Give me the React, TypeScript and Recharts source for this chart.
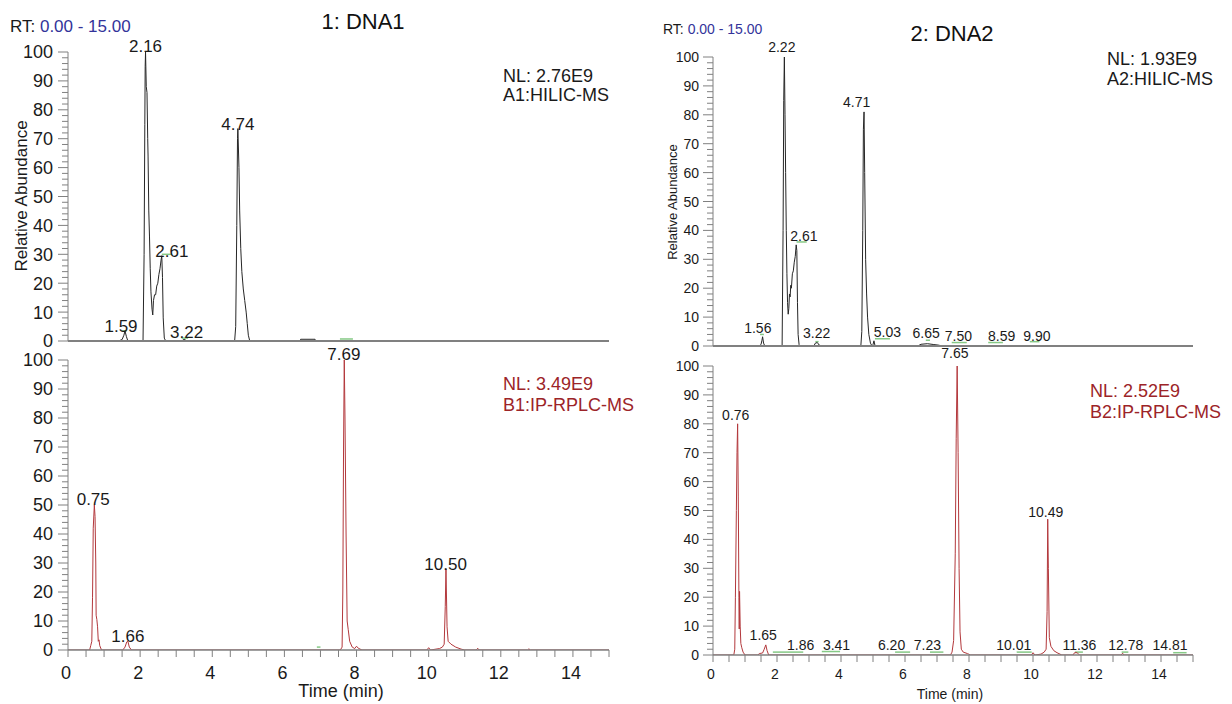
import React from "react";
import { LineChart, Line, XAxis, YAxis, ReferenceDot, ReferenceLine } from "recharts";

type Pt = { t: number; v: number };
type PeakLabel = { text: string; t: number; v: number };
type Seg = { t1: number; t2: number; v: number };

// A1: HILIC-MS, sample DNA1
const hilic1: Pt[] = [
  { t: 0, v: 0 }, { t: 1.4, v: 0 }, { t: 1.5, v: 0.5 }, { t: 1.55, v: 2 }, { t: 1.58, v: 3.5 },
  { t: 1.62, v: 1.5 }, { t: 1.66, v: 0 }, { t: 2.08, v: 0 }, { t: 2.11, v: 30 }, { t: 2.13, v: 75 },
  { t: 2.14, v: 95 }, { t: 2.15, v: 100 }, { t: 2.17, v: 88 }, { t: 2.19, v: 86 }, { t: 2.21, v: 70 },
  { t: 2.22, v: 64 }, { t: 2.24, v: 45 }, { t: 2.26, v: 36 }, { t: 2.28, v: 25 }, { t: 2.3, v: 17 },
  { t: 2.33, v: 11 }, { t: 2.35, v: 9 }, { t: 2.37, v: 14 }, { t: 2.4, v: 16 }, { t: 2.43, v: 16 },
  { t: 2.46, v: 19 }, { t: 2.49, v: 20 }, { t: 2.52, v: 23 }, { t: 2.55, v: 25 }, { t: 2.58, v: 28 },
  { t: 2.6, v: 29.5 }, { t: 2.62, v: 22 }, { t: 2.64, v: 8 }, { t: 2.67, v: 1 }, { t: 2.71, v: 0 },
  { t: 3.15, v: 0 }, { t: 3.22, v: 0.6 }, { t: 3.3, v: 0 }, { t: 4.62, v: 0 }, { t: 4.65, v: 5 },
  { t: 4.68, v: 40 }, { t: 4.7, v: 70 }, { t: 4.71, v: 73.5 }, { t: 4.74, v: 60 }, { t: 4.76, v: 45 },
  { t: 4.79, v: 32 }, { t: 4.82, v: 24 }, { t: 4.86, v: 18 }, { t: 4.9, v: 14 }, { t: 4.94, v: 10 },
  { t: 4.97, v: 6 }, { t: 5.0, v: 2 }, { t: 5.04, v: 0 }, { t: 6.43, v: 0 }, { t: 6.45, v: 0.6 },
  { t: 6.85, v: 0.6 }, { t: 6.87, v: 0 }, { t: 10.0, v: 0 },
];

// B1: IP-RPLC-MS, sample DNA1
const rplc1: Pt[] = [
  { t: 0, v: 0 }, { t: 0.6, v: 0 }, { t: 0.63, v: 1.5 }, { t: 0.66, v: 3 }, { t: 0.68, v: 18 },
  { t: 0.7, v: 42 }, { t: 0.73, v: 50 }, { t: 0.75, v: 46 }, { t: 0.77, v: 30 }, { t: 0.78, v: 12 },
  { t: 0.8, v: 10.5 }, { t: 0.82, v: 8 }, { t: 0.84, v: 3 }, { t: 0.86, v: 3.5 }, { t: 0.88, v: 1.5 },
  { t: 0.93, v: 0 }, { t: 1.52, v: 0 }, { t: 1.58, v: 1 }, { t: 1.63, v: 2.8 }, { t: 1.66, v: 3 },
  { t: 1.7, v: 1 }, { t: 1.76, v: 0 }, { t: 7.55, v: 0 }, { t: 7.6, v: 1 }, { t: 7.62, v: 20 },
  { t: 7.64, v: 70 }, { t: 7.66, v: 100 }, { t: 7.68, v: 80 }, { t: 7.71, v: 40 }, { t: 7.74, v: 10 },
  { t: 7.77, v: 7 }, { t: 7.81, v: 3 }, { t: 7.88, v: 1 }, { t: 7.95, v: 0.5 }, { t: 8.0, v: 1.3 },
  { t: 8.05, v: 0.6 }, { t: 8.15, v: 0 }, { t: 9.95, v: 0 }, { t: 10.0, v: 0.8 }, { t: 10.05, v: 0 },
  { t: 10.3, v: 0.5 }, { t: 10.38, v: 1 }, { t: 10.43, v: 2 }, { t: 10.46, v: 15 }, { t: 10.48, v: 28 },
  { t: 10.51, v: 8 }, { t: 10.54, v: 3 }, { t: 10.62, v: 2 }, { t: 10.75, v: 1 }, { t: 10.9, v: 0.3 },
  { t: 11.0, v: 0 }, { t: 11.32, v: 0 }, { t: 11.36, v: 0.6 }, { t: 11.4, v: 0 }, { t: 12.74, v: 0 },
  { t: 12.78, v: 0.4 }, { t: 12.82, v: 0 }, { t: 15, v: 0 },
];

// A2: HILIC-MS, sample DNA2
const hilic2: Pt[] = [
  { t: 0, v: 0 }, { t: 1.45, v: 0 }, { t: 1.5, v: 0.5 }, { t: 1.53, v: 2 }, { t: 1.55, v: 3.2 },
  { t: 1.58, v: 1 }, { t: 1.62, v: 0 }, { t: 2.16, v: 0 }, { t: 2.19, v: 40 }, { t: 2.21, v: 85 },
  { t: 2.23, v: 100 }, { t: 2.25, v: 80 }, { t: 2.27, v: 60 }, { t: 2.29, v: 40 }, { t: 2.31, v: 25 },
  { t: 2.33, v: 15 }, { t: 2.35, v: 11 }, { t: 2.37, v: 13 }, { t: 2.39, v: 18 }, { t: 2.41, v: 17 },
  { t: 2.43, v: 21 }, { t: 2.45, v: 20 }, { t: 2.48, v: 25 }, { t: 2.51, v: 26 }, { t: 2.54, v: 29 },
  { t: 2.57, v: 31 }, { t: 2.6, v: 35 }, { t: 2.62, v: 33 }, { t: 2.64, v: 15 }, { t: 2.66, v: 4 },
  { t: 2.69, v: 0.5 }, { t: 2.72, v: 0 }, { t: 3.15, v: 0 }, { t: 3.2, v: 1 }, { t: 3.26, v: 1.2 },
  { t: 3.32, v: 0.3 }, { t: 3.38, v: 0 }, { t: 4.62, v: 0 }, { t: 4.65, v: 5 }, { t: 4.68, v: 40 },
  { t: 4.7, v: 75 }, { t: 4.72, v: 81 }, { t: 4.74, v: 60 }, { t: 4.77, v: 30 }, { t: 4.8, v: 18 },
  { t: 4.83, v: 10 }, { t: 4.87, v: 4 }, { t: 4.92, v: 1 }, { t: 4.97, v: 0 }, { t: 5.0, v: 0.5 },
  { t: 5.03, v: 1.8 }, { t: 5.06, v: 0.3 }, { t: 5.1, v: 0 }, { t: 6.4, v: 0 }, { t: 6.5, v: 0.6 },
  { t: 6.7, v: 0.8 }, { t: 6.9, v: 0.5 }, { t: 7.05, v: 0.3 }, { t: 7.15, v: 0 }, { t: 10.0, v: 0 },
];

// B2: IP-RPLC-MS, sample DNA2
const rplc2: Pt[] = [
  { t: 0, v: 0 }, { t: 0.65, v: 0 }, { t: 0.68, v: 2 }, { t: 0.7, v: 20 }, { t: 0.73, v: 50 },
  { t: 0.75, v: 70 }, { t: 0.77, v: 80 }, { t: 0.79, v: 55 }, { t: 0.81, v: 20 }, { t: 0.82, v: 9 },
  { t: 0.83, v: 22 }, { t: 0.85, v: 10 }, { t: 0.87, v: 4 }, { t: 0.9, v: 2.5 }, { t: 0.94, v: 1 },
  { t: 1.0, v: 0 }, { t: 1.4, v: 0 }, { t: 1.45, v: 0.5 }, { t: 1.55, v: 0.7 }, { t: 1.6, v: 2 },
  { t: 1.65, v: 3.5 }, { t: 1.69, v: 1.5 }, { t: 1.74, v: 0 }, { t: 7.42, v: 0 }, { t: 7.47, v: 1 },
  { t: 7.52, v: 5 }, { t: 7.57, v: 35 }, { t: 7.6, v: 75 }, { t: 7.63, v: 100 }, { t: 7.66, v: 70 },
  { t: 7.69, v: 30 }, { t: 7.72, v: 8 }, { t: 7.76, v: 2 }, { t: 7.82, v: 1 }, { t: 7.95, v: 0.5 },
  { t: 8.05, v: 0 }, { t: 9.95, v: 0 }, { t: 10.0, v: 0.8 }, { t: 10.06, v: 0 }, { t: 10.25, v: 0.3 },
  { t: 10.35, v: 1 }, { t: 10.41, v: 2 }, { t: 10.44, v: 15 }, { t: 10.46, v: 47 }, { t: 10.48, v: 30 },
  { t: 10.51, v: 6 }, { t: 10.56, v: 3 }, { t: 10.65, v: 1.5 }, { t: 10.75, v: 0.8 }, { t: 10.9, v: 0 },
  { t: 11.25, v: 0 }, { t: 11.3, v: 0.8 }, { t: 11.38, v: 0.8 }, { t: 11.45, v: 0 }, { t: 12.75, v: 0 },
  { t: 12.8, v: 0.6 }, { t: 12.85, v: 0 }, { t: 15, v: 0 },
];

// peak annotations: text, centre time, abundance at the text baseline
const hilic1Labels: PeakLabel[] = [
  { text: "2.16", t: 2.15, v: 100 }, { text: "4.74", t: 4.71, v: 73 }, { text: "2.61", t: 2.88, v: 29 },
  { text: "1.59", t: 1.47, v: 3 }, { text: "3.22", t: 3.29, v: 1 },
];
const rplc1Labels: PeakLabel[] = [
  { text: "0.75", t: 0.7, v: 50 }, { text: "1.66", t: 1.66, v: 2.8 }, { text: "7.69", t: 7.65, v: 100 },
  { text: "10.50", t: 10.47, v: 27.6 },
];
const hilic2Labels: PeakLabel[] = [
  { text: "2.22", t: 2.15, v: 101.6 }, { text: "4.71", t: 4.49, v: 82.7 }, { text: "2.61", t: 2.84, v: 36.4 },
  { text: "1.56", t: 1.4, v: 4.6 }, { text: "3.22", t: 3.24, v: 2.7 }, { text: "5.03", t: 5.45, v: 3 },
  { text: "6.65", t: 6.66, v: 2.7 }, { text: "7.50", t: 7.67, v: 1.8 }, { text: "8.59", t: 9.02, v: 1.8 },
  { text: "9.90", t: 10.12, v: 1.8 },
];
const rplc2Labels: PeakLabel[] = [
  { text: "0.76", t: 0.71, v: 81.3 }, { text: "1.65", t: 1.57, v: 5.2 }, { text: "1.86", t: 2.74, v: 1.7 },
  { text: "3.41", t: 3.86, v: 1.7 }, { text: "6.20", t: 5.58, v: 1.7 }, { text: "7.23", t: 6.7, v: 1.7 },
  { text: "7.65", t: 7.56, v: 102.8 }, { text: "10.49", t: 10.4, v: 47.9 }, { text: "10.01", t: 9.4, v: 1.7 },
  { text: "11.36", t: 11.45, v: 1.7 }, { text: "12.78", t: 12.9, v: 1.7 }, { text: "14.81", t: 14.28, v: 1.7 },
];

// little green baseline marks under the labels
const hilic1Segs: Seg[] = [
  { t1: 1.49, t2: 1.63, v: 3.5 }, { t1: 2.6, t2: 2.88, v: 30 }, { t1: 3.15, t2: 3.33, v: 1 },
  { t1: 7.54, t2: 7.9, v: 0.7 },
];
const rplc1Segs: Seg[] = [{ t1: 6.9, t2: 7.0, v: 1 }];
const hilic2Segs: Seg[] = [
  { t1: 1.47, t2: 1.59, v: 4 }, { t1: 2.61, t2: 2.93, v: 36 }, { t1: 3.2, t2: 3.3, v: 1.5 },
  { t1: 5.06, t2: 5.53, v: 2.5 }, { t1: 6.65, t2: 6.78, v: 2 }, { t1: 7.46, t2: 7.93, v: 1.2 },
  { t1: 8.6, t2: 9.06, v: 1.2 }, { t1: 9.9, t2: 10.2, v: 1.5 },
];
const rplc2Segs: Seg[] = [
  { t1: 1.87, t2: 2.82, v: 1 }, { t1: 3.4, t2: 3.97, v: 1.2 }, { t1: 5.69, t2: 6.16, v: 1 },
  { t1: 6.78, t2: 7.2, v: 1 }, { t1: 9.49, t2: 9.96, v: 1 }, { t1: 11.31, t2: 11.56, v: 1 },
  { t1: 12.77, t2: 12.98, v: 1 }, { t1: 14.38, t2: 14.8, v: 0.8 },
];

const yTicks = [
  0, 2, 4, 6, 8, 10, 12, 14, 16, 18, 20, 22, 24, 26, 28, 30, 32, 34, 36, 38, 40, 42, 44, 46, 48, 50,
  52, 54, 56, 58, 60, 62, 64, 66, 68, 70, 72, 74, 76, 78, 80, 82, 84, 86, 88, 90, 92, 94, 96, 98, 100,
];
const yMajor = [0, 10, 20, 30, 40, 50, 60, 70, 80, 90, 100];
const xTicks = [
  0, 0.5, 1, 1.5, 2, 2.5, 3, 3.5, 4, 4.5, 5, 5.5, 6, 6.5, 7, 7.5, 8, 8.5, 9, 9.5, 10, 10.5, 11, 11.5,
  12, 12.5, 13, 13.5, 14, 14.5, 15,
];
const xMajor = [0, 2, 4, 6, 8, 10, 12, 14];

const FONT = "'Liberation Sans', Arial, sans-serif";
const BLACK_TRACE = "#262626";
const RED_TRACE = "#b3383c";
const RED_TEXT = "#9c2428";
const GREEN = "#86c986";
const AXIS = "#808080";

type PanelProps = {
  left: number;
  top: number;
  width: number;
  height: number;
  plot: [number, number, number, number];
  data: Pt[];
  color: string;
  labels: PeakLabel[];
  segs: Seg[];
  tickFs: number;
  labelFs: number;
  showX: boolean;
  xh: number;
};

function Panel(p: PanelProps) {
  const [x0, y0, x1, y1] = p.plot;
  const plotLeft = x0 - p.left;
  const pxPerUnit = (y1 - y0) / 100;
  const margin = {
    top: y0 - p.top,
    left: 0,
    right: p.left + p.width - x1,
    bottom: p.top + p.height - y1 - p.xh,
  };
  const big = p.tickFs > 16;
  const yTick = (props: any) => {
    const { x, y, payload } = props;
    const isMajor = yMajor.includes(payload.value);
    const len = isMajor ? 10 : 6;
    return (
      <g>
        <line x1={x - len} x2={x} y1={y} y2={y} stroke={AXIS} />
        {isMajor && (
          <text x={x - len - (big ? 5 : 4)} y={y + p.tickFs * 0.36} textAnchor="end" fontSize={p.tickFs} fill="#1a1a1a" fontFamily={FONT}>
            {payload.value}
          </text>
        )}
      </g>
    );
  };
  const xTick = (props: any) => {
    const { x, y, payload } = props;
    const isMajor = xMajor.includes(payload.value);
    return (
      <g>
        <line x1={x} x2={x} y1={y} y2={y + 7} stroke={AXIS} />
        {isMajor && (
          <text x={x - 2} y={y + (big ? 28.5 : 24)} textAnchor="middle" fontSize={p.tickFs} fill="#1a1a1a" fontFamily={FONT}>
            {payload.value}
          </text>
        )}
      </g>
    );
  };
  return (
    <div style={{ position: "absolute", left: p.left, top: p.top }}>
      <LineChart width={p.width} height={p.height} data={p.data} margin={margin}>
        <XAxis
          dataKey="t"
          type="number"
          domain={[0, 15]}
          ticks={p.showX ? xTicks : []}
          interval={0}
          height={p.xh}
          axisLine={{ stroke: AXIS, strokeWidth: p.showX ? 1.5 : 2 }}
          tickLine={false}
          tickSize={0}
          tickMargin={0}
          tick={p.showX ? xTick : false}
          allowDataOverflow
        />
        <YAxis
          type="number"
          domain={[0, 100]}
          ticks={yTicks}
          interval={0}
          width={plotLeft}
          axisLine={{ stroke: AXIS }}
          tickLine={false}
          tickSize={0}
          tickMargin={0}
          tick={yTick}
          allowDataOverflow
        />
        {p.segs.map((s, i) => (
          <ReferenceLine
            key={"s" + i}
            segment={[{ x: s.t1, y: s.v }, { x: s.t2, y: s.v }]}
            stroke={GREEN}
            strokeWidth={1.5}
            ifOverflow="visible"
          />
        ))}
        <Line type="linear" dataKey="v" stroke={p.color} strokeWidth={1} dot={false} isAnimationActive={false} />
        {p.labels.map((l, i) => (
          <ReferenceDot
            key={"l" + i}
            x={l.t}
            y={Math.min(l.v, 100)}
            r={0}
            ifOverflow="visible"
            shape={(sp: any) => (
              <text
                x={sp.cx}
                y={sp.cy - Math.max(0, l.v - 100) * pxPerUnit}
                textAnchor="middle"
                fontSize={p.labelFs}
                fill="#1a1a1a"
                fontFamily={FONT}
              >
                {l.text}
              </text>
            )}
          />
        ))}
      </LineChart>
    </div>
  );
}

export default function App() {
  return (
    <div style={{ position: "absolute", left: 0, top: 0, width: 1232, height: 704, background: "#fff", fontFamily: FONT }}>
      <svg width={1232} height={704} style={{ position: "absolute", left: 0, top: 0 }}>
        <text x={10} y={32} fontSize={17} fontFamily={FONT} fill="#1a1a1a">
          RT: <tspan fill="#33339a">0.00 - 15.00</tspan>
        </text>
        <text x={663} y={34} fontSize={14} fontFamily={FONT} fill="#1a1a1a">
          RT: <tspan fill="#33339a">0.00 - 15.00</tspan>
        </text>
        <text x={363} y={29} fontSize={22} fontFamily={FONT} textAnchor="middle" fill="#111">1: DNA1</text>
        <text x={952} y={41} fontSize={22} fontFamily={FONT} textAnchor="middle" fill="#111">2: DNA2</text>

        <text x={503} y={82} fontSize={18} fontFamily={FONT} fill="#1a1a1a">NL: 2.76E9</text>
        <text x={503} y={101} fontSize={18} fontFamily={FONT} fill="#1a1a1a">A1:HILIC-MS</text>
        <text x={1107} y={65} fontSize={18} fontFamily={FONT} fill="#1a1a1a">NL: 1.93E9</text>
        <text x={1107} y={85} fontSize={18} fontFamily={FONT} fill="#1a1a1a">A2:HILIC-MS</text>
        <text x={503} y={390} fontSize={18} fontFamily={FONT} fill={RED_TEXT}>NL: 3.49E9</text>
        <text x={503} y={411} fontSize={18} fontFamily={FONT} fill={RED_TEXT}>B1:IP-RPLC-MS</text>
        <text x={1090} y={397} fontSize={18} fontFamily={FONT} fill={RED_TEXT}>NL: 2.52E9</text>
        <text x={1090} y={418} fontSize={18} fontFamily={FONT} fill={RED_TEXT}>B2:IP-RPLC-MS</text>

        <text transform="translate(21,196) rotate(-90)" textAnchor="middle" dominantBaseline="central" fontSize={17} fontFamily={FONT} fill="#1a1a1a">
          Relative Abundance
        </text>
        <text transform="translate(672,202) rotate(-90)" textAnchor="middle" dominantBaseline="central" fontSize={13} fontFamily={FONT} fill="#1a1a1a">
          Relative Abundance
        </text>
        <text x={341} y={697} fontSize={18} fontFamily={FONT} textAnchor="middle" fill="#1a1a1a">Time (min)</text>
        <text x={950} y={699} fontSize={14} fontFamily={FONT} textAnchor="middle" fill="#1a1a1a">Time (min)</text>
      </svg>

      <Panel left={0} top={0} width={640} height={350} plot={[68, 52, 609, 341]} data={hilic1} color={BLACK_TRACE}
        labels={hilic1Labels} segs={hilic1Segs} tickFs={18} labelFs={17} showX={false} xh={2} />
      <Panel left={0} top={330} width={640} height={374} plot={[68, 360, 609, 650]} data={rplc1} color={RED_TRACE}
        labels={rplc1Labels} segs={rplc1Segs} tickFs={18} labelFs={17} showX={true} xh={50} />
      <Panel left={640} top={0} width={592} height={355} plot={[713, 57, 1193, 346]} data={hilic2} color={BLACK_TRACE}
        labels={hilic2Labels} segs={hilic2Segs} tickFs={14} labelFs={14} showX={false} xh={2} />
      <Panel left={640} top={340} width={592} height={364} plot={[713, 366, 1193, 655]} data={rplc2} color={RED_TRACE}
        labels={rplc2Labels} segs={rplc2Segs} tickFs={14} labelFs={14} showX={true} xh={47} />
    </div>
  );
}
